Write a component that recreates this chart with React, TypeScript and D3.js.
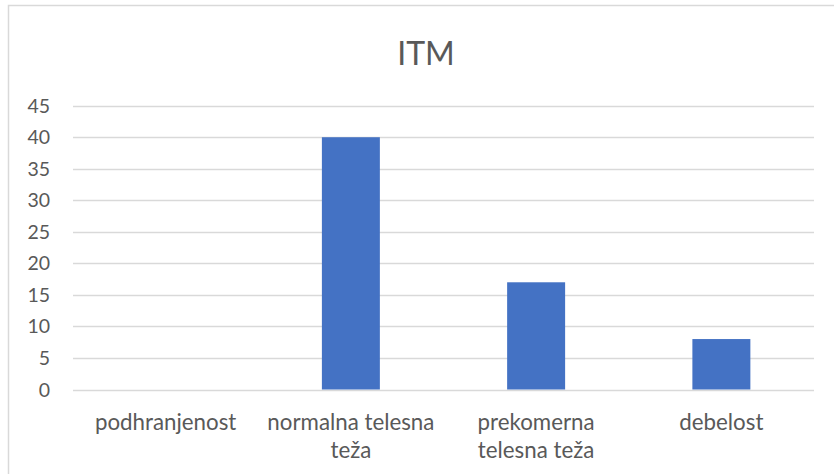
import React from "react";
import * as d3 from "d3";

const title = "ITM";
const categories = ["podhranjenost", "normalna telesna teža", "prekomerna telesna teža", "debelost"];
const categoryLines = [["podhranjenost"], ["normalna telesna", "teža"], ["prekomerna", "telesna teža"], ["debelost"]];
const values = [0, 40, 17, 8];
const yTicks = [0, 5, 10, 15, 20, 25, 30, 35, 40, 45];

const W = 834;
const H = 474;
const FONT = "Lato, 'Open Sans', sans-serif";
const TEXT = "#595959";
const GRID = "#D9D9D9";
const BAR = "#4472C4";

export default function App() {
  const x = d3.scaleBand<string>().domain(categories).range([73, 814]).padding(0);
  const y = d3.scaleLinear().domain([0, 45]).range([389.5, 105.7]);
  const barW = x.bandwidth() * 0.313;

  return (
    <svg width={W} height={H} style={{ position: "absolute", left: 0, top: 0, background: "#fff" }}>
      <rect x={0} y={0} width={W} height={H} fill="#fff" />
      <rect x={8.5} y={5.5} width={W + 20} height={H + 20} fill="none" stroke={GRID} strokeWidth={1.5} />
      <text x={426} y={64.5} textAnchor="middle" fontFamily={FONT} fontSize={32} fill={TEXT}>
        {title}
      </text>
      {yTicks.map((t) => (
        <g key={t}>
          <line x1={73} x2={814} y1={Math.round(y(t)) + 0.5} y2={Math.round(y(t)) + 0.5} stroke={GRID} strokeWidth={1.5} />
          <text x={50} y={y(t)} dy="0.36em" textAnchor="end" fontFamily={FONT} fontSize={19.5} fill={TEXT}>
            {t}
          </text>
        </g>
      ))}
      {categories.map((c, i) => {
        const cx = (x(c) as number) + x.bandwidth() / 2;
        return (
          <g key={c}>
            {values[i] > 0 && (
              <rect x={cx - barW / 2} y={y(values[i])} width={barW} height={y(0) - y(values[i])} fill={BAR} />
            )}
            {categoryLines[i].map((ln, j) => (
              <text key={j} x={cx} y={429.5 + j * 28} textAnchor="middle" fontFamily={FONT} fontSize={22.3} fill={TEXT}>
                {ln}
              </text>
            ))}
          </g>
        );
      })}
    </svg>
  );
}
